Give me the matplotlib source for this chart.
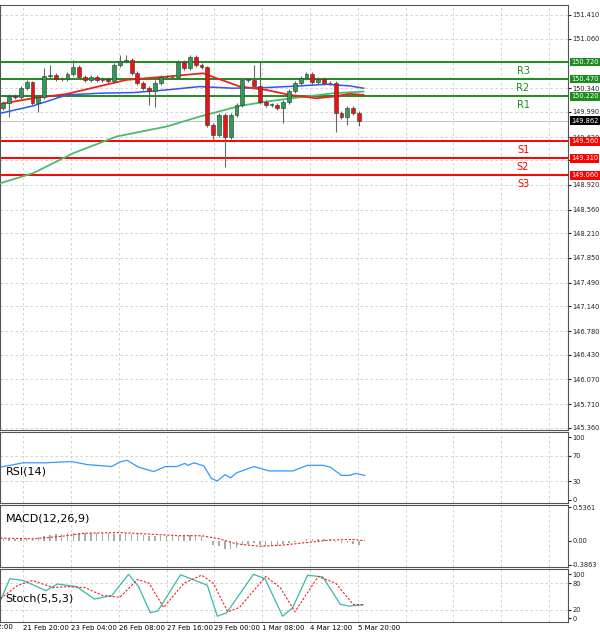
import matplotlib
matplotlib.use("Agg")
import matplotlib.pyplot as plt
import matplotlib.transforms as mtransforms
import numpy as np

closes = [150.117,150.224,150.205,150.337,150.434,150.127,150.205,150.517,150.532,150.468,
          150.468,150.546,150.644,150.507,150.459,150.498,150.459,150.468,150.444,150.678,
          150.742,150.751,150.556,150.410,150.337,150.302,150.420,150.507,150.498,150.498,
          150.727,150.629,150.790,150.678,150.654,149.800,149.653,149.946,149.629,149.946,
          150.092,150.459,150.459,150.371,150.141,150.092,150.092,150.044,150.141,150.302,
          150.410,150.483,150.542,150.434,150.468,150.410,150.410,149.971,149.922,150.044,
          149.971,149.862]
opens = [150.044] + closes[:-1]
high_wick = {5:150.44, 7:150.64, 8:150.68, 12:150.75, 20:150.83, 21:150.83, 32:150.83,
             43:150.68, 44:150.73, 35:150.66}
low_wick = {1:149.92, 6:149.99, 25:150.09, 26:150.06, 38:149.19, 48:149.83, 57:149.70,
            59:149.80, 61:149.79, 36:149.60}
highs = [high_wick.get(i, max(o, c) + 0.03) for i, (o, c) in enumerate(zip(opens, closes))]
lows = [low_wick.get(i, min(o, c) - 0.03) for i, (o, c) in enumerate(zip(opens, closes))]

ma_x = [-0.5, 5.1, 10.9, 21.1, 28, 34.3, 36.6, 40.6, 45.1, 49.1, 53.7, 56.6, 59.4, 61.8]
ma_red = [150.107,150.190,150.253,150.459,150.507,150.556,150.483,150.361,150.312,150.239,150.190,150.215,150.254,150.239]
ma_blue_x = [-0.5, 5.1, 10.9, 16.6, 22.3, 28, 33.7, 39.4, 45.1, 50.9, 55.4, 59.4, 61.8]
ma_blue = [149.970,150.078,150.239,150.264,150.273,150.312,150.361,150.337,150.346,150.371,150.395,150.371,150.337]
ma_green_x = [-0.5, 5.1, 12, 19.4, 28, 33.7, 40.6, 45.1, 50.9, 56.6, 61.8]
ma_green = [148.946,149.092,149.385,149.629,149.776,149.922,150.078,150.141,150.205,150.263,150.288]

levels = [150.720, 150.470, 150.220, 149.560, 149.310, 149.060]
level_names = ["R3", "R2", "R1", "S1", "S2", "S3"]
level_colors = ["#1e8c1e"] * 3 + ["#ff0000"] * 3
last_price = 149.862
price_ticks = [151.410, 151.060, 150.340, 149.990, 149.620, 149.280, 148.920, 148.560, 148.210, 147.850,
               147.490, 147.140, 146.780, 146.430, 146.070, 145.710, 145.360]

tick_idx = [3.4, 11.6, 19.8, 28.0, 36.2, 44.4, 52.6, 60.8, 69.0, 77.2, 85.4, 93.6]
tick_labels = ["21 Feb 20:00", "23 Feb 04:00", "26 Feb 08:00", "27 Feb 16:00",
               "29 Feb 00:00", "1 Mar 08:00", "4 Mar 12:00", "5 Mar 20:00"]

rsi_x = [-0.5, 3.4, 7.3, 11.6, 14.5, 18.6, 19.9, 21.2, 23.2, 25.8, 27.8, 29.8, 31.1, 31.7, 32.7,
         34.4, 35.7, 36.7, 38.0, 39.0, 40.0, 43.0, 45.6, 49.6, 52.2, 54.8, 56.1, 58.0, 59.4, 60.4, 62.0]
rsi_vals = [52, 59, 59, 61, 56, 53, 60, 63, 52, 45, 53, 53, 58, 55, 59, 54, 34, 30, 40, 35, 43,
            53, 46, 46, 55, 55, 52, 39, 39, 42, 39]

macd_hist = [0.02,0.03,0.03,0.04,0.05,0.05,0.06,0.08,0.09,0.10,0.11,0.12,0.13,0.13,0.13,0.13,
             0.12,0.12,0.12,0.11,0.11,0.12,0.11,0.10,0.09,0.08,0.08,0.07,0.07,0.07,0.08,0.08,
             0.09,0.08,0.07,0.00,-0.07,-0.08,-0.14,-0.13,-0.12,-0.07,-0.05,-0.04,-0.07,-0.08,
             -0.09,-0.08,-0.06,-0.04,-0.02,0.00,0.02,0.02,0.03,0.03,0.03,-0.02,-0.04,-0.03,-0.05,-0.07]
macd_sig_x = [-0.5, 5, 10, 14, 20, 26, 30, 34, 37, 40, 44, 48, 52, 56, 60, 62]
macd_sig = [0.04, 0.03, 0.07, 0.12, 0.13, 0.10, 0.08, 0.08, 0.03, -0.05, -0.09, -0.07, -0.03, 0.01, 0.02, 0.00]

st_x = [-0.5, 1.1, 3.4, 7.3, 9.3, 12.6, 15.6, 18.6, 21.5, 23.2, 25.2, 26.5, 30.4, 33.7, 35.0,
        36.7, 38.3, 42.9, 44.9, 47.9, 49.6, 52.2, 54.8, 57.8, 59.4, 61.7]
st_main = [40, 90, 86, 63, 78, 72, 44, 52, 100, 72, 13, 17, 99, 82, 75, 5, 13, 100, 90, 5, 24, 98, 94, 32, 28, 31]
st_sig_x = [-0.5, 2.5, 5, 8.5, 11, 14, 17, 20, 23, 25, 27.5, 31, 34, 36, 38.5, 40.5, 45, 47.5, 50, 54, 57, 60, 61.7]
st_sig = [45, 75, 86, 70, 72, 70, 52, 48, 88, 80, 25, 80, 98, 80, 15, 25, 95, 70, 15, 95, 80, 32, 31]

W, H = 600, 638
FS = 4.8
XFS = 5.0
fig = plt.figure(figsize=(6, 6.38), dpi=100)
fig.patch.set_facecolor("white")

def px_to_idx(px):
    return (px - 3.33) / 5.83

def mkax(top, bottom):
    ax = fig.add_axes([0, 1 - bottom / H, 568 / W, (bottom - top) / H])
    ax.set_xlim(px_to_idx(0), px_to_idx(568))
    ax.yaxis.tick_right()
    ax.tick_params(axis="y", labelsize=FS, length=2, pad=1, colors="#222222")
    ax.tick_params(axis="x", length=0, labelbottom=False)
    for s in ax.spines.values():
        s.set_color("#555555"); s.set_linewidth(0.8)
    for t in tick_idx:
        ax.axvline(t, color="#cccccc", ls=(0, (3, 3)), lw=0.6, zorder=0)
    return ax

ax = mkax(5, 430)
ax.set_ylim(145.33, 151.556)
ax.set_yticks(price_ticks)
ax.set_yticklabels([f"{v:.3f}" for v in price_ticks])
for v in price_ticks:
    ax.axhline(v, color="#cccccc", ls=(0, (3, 3)), lw=0.6, zorder=0)
ax.axhline(last_price, color="#bbbbbb", lw=0.6, zorder=0)

for lv, nm, col in zip(levels, level_names, level_colors):
    ax.axhline(lv, color=col, lw=1.4, zorder=2)
    ax.text(px_to_idx(523), lv - 0.13, nm, color=col, fontsize=7, ha="center", va="center")
    ax.text(px_to_idx(571), lv, f"{lv:.3f}", color="white", fontsize=FS, ha="left", va="center",
            bbox=dict(boxstyle="square,pad=0.2", fc=col, ec="none"), clip_on=False, zorder=5)
ax.text(px_to_idx(571), last_price, f"{last_price:.3f}", color="white", fontsize=FS, ha="left",
        va="center", bbox=dict(boxstyle="square,pad=0.2", fc="black", ec="none"), clip_on=False, zorder=5)

ax.plot(ma_green_x, ma_green, color="#4cbb6c", lw=1.3, zorder=3)
ax.plot(ma_blue_x, ma_blue, color="#3355ee", lw=1.1, zorder=3)
ax.plot(ma_x, ma_red, color="#ee2020", lw=1.3, zorder=3)

for i, (o, c, h, l) in enumerate(zip(opens, closes, highs, lows)):
    col = "#2e9b56" if c >= o else "#ee1111"
    ax.vlines(i, l, h, color="#666666", lw=0.8, zorder=4)
    b = max(abs(c - o), 0.008)
    ax.add_patch(plt.Rectangle((i - 0.33, min(o, c)), 0.66, b, fc=col, ec="#333333", lw=0.4, zorder=5))

# RSI
ax1 = mkax(432, 503)
ax1.set_ylim(-5, 108)
ax1.set_yticks([0, 30, 70, 100])
for v in [30, 70]:
    ax1.axhline(v, color="#cccccc", ls=(0, (3, 3)), lw=0.6, zorder=0)
ax1.plot(rsi_x, rsi_vals, color="#3399ff", lw=0.9)
ax1.text(0.01, 0.45, "RSI(14)", transform=ax1.transAxes, fontsize=8, va="center")

# MACD
ax2 = mkax(505, 567)
ax2.set_ylim(-0.42, 0.57)
ax2.set_yticks([-0.3863, 0.0, 0.5361])
ax2.set_yticklabels(["-0.3863", "0.00", "0.5361"])
ax2.bar(range(len(macd_hist)), macd_hist, width=0.25, color="#aaaaaa")
ax2.plot(macd_sig_x, macd_sig, color="#ee2020", ls=(0, (2, 1.5)), lw=0.8)
ax2.text(0.01, 0.78, "MACD(12,26,9)", transform=ax2.transAxes, fontsize=8, va="center")

# Stoch
ax3 = mkax(569, 622)
ax3.set_ylim(-8, 112)
ax3.set_yticks([0, 20, 80, 100])
for v in [20, 80]:
    ax3.axhline(v, color="#cccccc", ls=(0, (3, 3)), lw=0.6, zorder=0)
ax3.plot(st_x, st_main, color="#3cb8a8", lw=0.9)
ax3.plot(st_sig_x, st_sig, color="#ee2020", ls=(0, (2, 1.5)), lw=0.8)
ax3.text(0.01, 0.45, "Stoch(5,5,3)", transform=ax3.transAxes, fontsize=8, va="center")
ax3.set_xticks(tick_idx[:len(tick_labels)])
ax3.tick_params(axis="x", labelbottom=True, labelsize=XFS, pad=2)
ax3.set_xticklabels(tick_labels, ha="left")
trans = mtransforms.blended_transform_factory(ax3.transData, ax3.transAxes)
ax3.text(px_to_idx(13), -0.04, "20 Feb 12:00", transform=trans, fontsize=XFS, ha="right", va="top",
         clip_on=False)

fig.savefig("out.png", dpi=100)
